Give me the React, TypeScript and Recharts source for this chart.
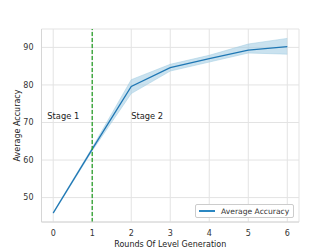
import React from "react";
import {
  ComposedChart,
  Line,
  Area,
  XAxis,
  YAxis,
  CartesianGrid,
  ReferenceLine,
  ReferenceDot,
  Legend,
} from "recharts";

const rounds = [0, 1, 2, 3, 4, 5, 6];
const accuracy = [45.9, 62.9, 79.6, 84.6, 87.0, 89.3, 90.2];
const accLow = [45.7, 62.5, 77.7, 83.7, 86.1, 88.5, 88.2];
const accHigh = [46.1, 63.3, 81.4, 85.5, 87.9, 90.9, 92.4];
const yTicks = [50, 60, 70, 80, 90];

const data = rounds.map((r, i) => ({
  round: r,
  acc: accuracy[i],
  band: [accLow[i], accHigh[i]],
}));

const font = "DejaVu Sans, sans-serif";
const tickStyle = { fontSize: 8, fill: "#333", fontFamily: font };

const LegendBox = () => (
  <div
    style={{
      position: "absolute",
      left: 195,
      top: 204,
      width: 99,
      height: 14,
      border: "1px solid #ccc",
      borderRadius: 2,
      background: "#fff",
      boxSizing: "border-box",
      display: "flex",
      alignItems: "center",
      fontFamily: font,
      fontSize: 7.6,
      color: "#333",
      whiteSpace: "nowrap",
    }}
  >
    <span
      style={{
        display: "inline-block",
        width: 16,
        height: 1.5,
        background: "#2b87c2",
        marginLeft: 3,
        marginRight: 6,
      }}
    />
    Average Accuracy
  </div>
);

const App = () => {
  return (
    <div style={{ position: "absolute", left: 0, top: 0, width: 332, height: 249, background: "#fff" }}>
      <ComposedChart
        width={332}
        height={249}
        data={data}
        margin={{ top: 29, right: 33, left: 0, bottom: 0 }}
      >
        <CartesianGrid stroke="#e3e3e3" strokeWidth={1} />
        <XAxis
          dataKey="round"
          type="number"
          domain={[-0.3, 6.3]}
          ticks={rounds}
          height={27}
          tick={tickStyle}
          tickLine={false}
          axisLine={{ stroke: "#d6d6d6" }}
          tickMargin={2}
          label={{
            value: "Rounds Of Level Generation",
            position: "insideBottom",
            offset: 2,
            style: { fontSize: 8, fill: "#222", fontFamily: font },
          }}
        />
        <YAxis
          type="number"
          domain={[43.5, 94.9]}
          ticks={yTicks}
          width={41.5}
          tick={tickStyle}
          tickLine={false}
          axisLine={{ stroke: "#d6d6d6" }}
          tickMargin={2}
          label={{
            value: "Average Accuracy",
            angle: -90,
            position: "insideLeft",
            offset: 17,
            style: { fontSize: 8, fill: "#222", fontFamily: font, textAnchor: "middle" },
          }}
        />
        <Area
          dataKey="band"
          type="linear"
          stroke="#9ecae1"
          strokeWidth={0.5}
          fill="#9ecae1"
          fillOpacity={0.55}
          isAnimationActive={false}
          legendType="none"
        />
        <Line
          dataKey="acc"
          name="Average Accuracy"
          type="linear"
          stroke="#1f77b4"
          strokeWidth={1.3}
          dot={false}
          isAnimationActive={false}
        />
        <ReferenceLine x={1} stroke="#2ca02c" strokeWidth={1.3} strokeDasharray="4 2" />
        <ReferenceDot
          x={-0.15}
          y={71.6}
          r={0}
          label={{ value: "Stage 1", position: "right", offset: 0, style: { fontSize: 8.3, fill: "#222", fontFamily: font } }}
        />
        <ReferenceDot
          x={2.0}
          y={71.6}
          r={0}
          label={{ value: "Stage 2", position: "right", offset: 0, style: { fontSize: 8.3, fill: "#222", fontFamily: font } }}
        />
        <Legend content={() => null} />
      </ComposedChart>
      <LegendBox />
    </div>
  );
};

export default App;
